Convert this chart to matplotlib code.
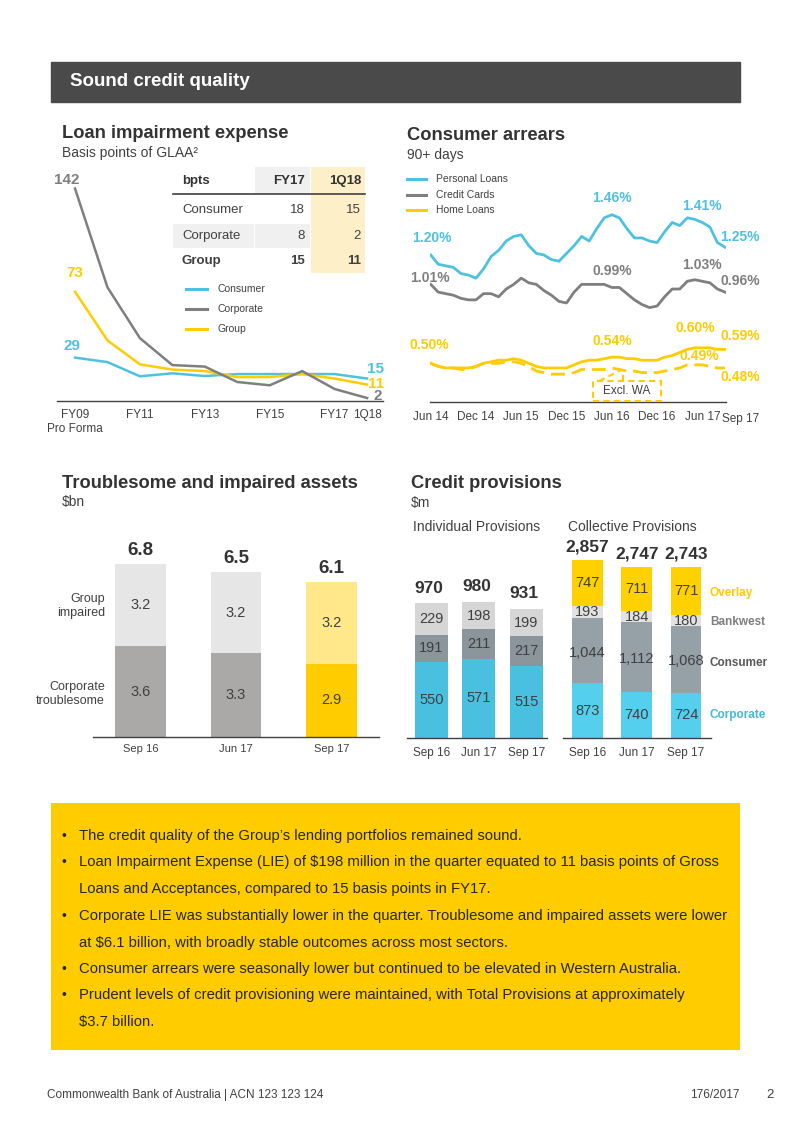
import matplotlib.pyplot as plt
from matplotlib.patches import Rectangle
from matplotlib.lines import Line2D
from matplotlib import font_manager

W, H = 794, 1123
DARK = '#404040'
TITLE = '#333333'
BLUE = '#4FC1E0'
GREY = '#7F7F7F'
YELLOW = '#FFCC00'

plt.rcParams['font.family'] = ['Liberation Sans', 'DejaVu Sans']

# loan impairment expense, bpts of GLAA
lie_years = ['FY09', 'FY10', 'FY11', 'FY12', 'FY13', 'FY14', 'FY15', 'FY16', 'FY17', '1Q18']
lie_tick_labels = ['FY09', '', 'FY11', '', 'FY13', '', 'FY15', '', 'FY17', '1Q18']
lie_consumer = [29, 26, 16.5, 18.5, 16.7, 18, 18, 18, 18, 15]
lie_corporate = [142, 76, 42, 24, 23, 12.7, 10.5, 20, 8, 2]
lie_group = [73, 40.5, 24.5, 21, 20, 16, 16, 18, 15, 11]

tbl_rows = ['Consumer', 'Corporate', 'Group']
tbl_fy17 = [18, 8, 15]
tbl_1q18 = [15, 2, 11]

# consumer arrears 90+ days, monthly Jun 14 - Sep 17 (%)
personal_loans = [1.20, 1.14, 1.13, 1.12, 1.08, 1.07, 1.05, 1.11, 1.19, 1.23,
                  1.29, 1.32, 1.33, 1.26, 1.21, 1.20, 1.17, 1.16, 1.21, 1.26,
                  1.32, 1.29, 1.37, 1.44, 1.46, 1.44, 1.37, 1.31, 1.31, 1.29,
                  1.28, 1.35, 1.41, 1.39, 1.44, 1.43, 1.41, 1.38, 1.28, 1.25]
credit_cards = [1.01, 0.96, 0.95, 0.94, 0.92, 0.91, 0.91, 0.95, 0.95, 0.93,
                0.98, 1.01, 1.05, 1.02, 1.01, 0.97, 0.94, 0.90, 0.89, 0.96,
                1.01, 1.01, 1.01, 1.01, 0.99, 0.99, 0.95, 0.91, 0.88, 0.86,
                0.87, 0.93, 0.98, 0.98, 1.03, 1.04, 1.03, 1.02, 0.98, 0.96]
home_loans = [0.50, 0.48, 0.47, 0.47, 0.47, 0.47, 0.48, 0.50, 0.51, 0.52,
              0.52, 0.53, 0.52, 0.50, 0.48, 0.47, 0.47, 0.47, 0.47, 0.49,
              0.51, 0.52, 0.52, 0.53, 0.54, 0.54, 0.53, 0.53, 0.52, 0.52,
              0.52, 0.54, 0.55, 0.57, 0.59, 0.60, 0.60, 0.60, 0.59, 0.59]
home_loans_ex_wa = [0.50, 0.48, 0.47, 0.47, 0.46, 0.46, 0.48, 0.50, 0.50, 0.50,
                    0.51, 0.51, 0.50, 0.48, 0.45, 0.44, 0.43, 0.43, 0.43, 0.44,
                    0.46, 0.46, 0.46, 0.46, 0.47, 0.46, 0.45, 0.45, 0.44, 0.44,
                    0.44, 0.45, 0.46, 0.47, 0.49, 0.49, 0.49, 0.48, 0.47, 0.47]
arrears_tick_pos = [0, 6, 12, 18, 24, 30, 36]
arrears_tick_labels = ['Jun 14', 'Dec 14', 'Jun 15', 'Dec 15', 'Jun 16', 'Dec 16', 'Jun 17']

# troublesome and impaired assets, $bn
ta_periods = ['Sep 16', 'Jun 17', 'Sep 17']
ta_troublesome = [3.6, 3.3, 2.9]
ta_impaired = [3.2, 3.2, 3.2]
ta_total = [6.8, 6.5, 6.1]

# credit provisions, $m
cp_periods = ['Sep 16', 'Jun 17', 'Sep 17']
ind_corporate = [550, 571, 515]
ind_consumer = [191, 211, 217]
ind_bankwest = [229, 198, 199]
ind_total = [970, 980, 931]
col_corporate = [873, 740, 724]
col_consumer = [1044, 1112, 1068]
col_bankwest = [193, 184, 180]
col_overlay = [747, 711, 771]
col_total = [2857, 2747, 2743]

bullets = [
    (True, 'The credit quality of the Group\u2019s lending portfolios remained sound.'),
    (True, 'Loan Impairment Expense (LIE) of $198 million in the quarter equated to 11 basis points of Gross'),
    (False, 'Loans and Acceptances, compared to 15 basis points in FY17.'),
    (True, 'Corporate LIE was substantially lower in the quarter. Troublesome and impaired assets were lower'),
    (False, 'at $6.1 billion, with broadly stable outcomes across most sectors.'),
    (True, 'Consumer arrears were seasonally lower but continued to be elevated in Western Australia.'),
    (True, 'Prudent levels of credit provisioning were maintained, with Total Provisions at approximately'),
    (False, '$3.7 billion.'),
]

fig = plt.figure(figsize=(W / 100, H / 100), dpi=100)
PT = 0.72  # points per pixel


def txt(x, y, s, **kw):
    kw.setdefault('color', DARK)
    kw.setdefault('va', 'center')
    fig.text(x / W, 1 - y / H, s, **kw)


def rect(l, t, r, b, **kw):
    fig.add_artist(Rectangle((l / W, 1 - b / H), (r - l) / W, (b - t) / H,
                             transform=fig.transFigure, **kw))


def seg(x1, y1, x2, y2, **kw):
    fig.add_artist(Line2D([x1 / W, x2 / W], [1 - y1 / H, 1 - y2 / H],
                          transform=fig.transFigure, **kw))


def axes_px(l, t, r, b):
    ax = fig.add_axes([l / W, 1 - b / H, (r - l) / W, (b - t) / H])
    ax.patch.set_alpha(0)
    for s in ['top', 'right', 'left']:
        ax.spines[s].set_visible(False)
    ax.spines['bottom'].set_color(DARK)
    ax.spines['bottom'].set_linewidth(1.0)
    ax.set_yticks([])
    ax.tick_params(axis='x', length=0, colors=DARK)
    return ax


def lab(ax, s, x, y, dx, dy, color, size=10, weight='bold'):
    ax.annotate(s, (x, y), xytext=(dx * PT, dy * PT), textcoords='offset points',
                ha='center', va='center', color=color, fontsize=size,
                fontweight=weight, annotation_clip=False)


# header
rect(51, 62, 740, 102, color='#4A4A4A')
txt(70, 82, 'Sound credit quality', color='white', fontsize=13.5, fontweight='bold')

# ---------------- loan impairment expense ----------------
txt(62, 134, 'Loan impairment expense', color=TITLE, fontsize=13.2, fontweight='bold')
txt(62, 153, 'Basis points of GLAA\u00b2', fontsize=10)

ax1 = axes_px(57, 170, 383, 401)
xi = list(range(len(lie_years)))
ax1.plot(xi, lie_consumer, color=BLUE, lw=1.8)
ax1.plot(xi, lie_group, color=YELLOW, lw=1.8)
ax1.plot(xi, lie_corporate, color=GREY, lw=1.8)
ax1.set_xlim(-0.555, 9.49)
ax1.set_ylim(0, 154.4)
ax1.set_xticks(xi, lie_tick_labels, fontsize=8.5)
ax1.tick_params(axis='x', pad=5.5)
lab(ax1, 'Pro Forma', 0, 0, 0, -28, DARK, 8.5, 'normal')
lab(ax1, '142', 0, lie_corporate[0], -8, 9, GREY, 11)
lab(ax1, '73', 0, lie_group[0], 0, 19, YELLOW, 11)
lab(ax1, '29', 0, lie_consumer[0], -3, 12, BLUE, 11)
lab(ax1, '15', 9, lie_consumer[-1], 8, 10, BLUE, 11)
lab(ax1, '11', 9, lie_group[-1], 9, 1, YELLOW, 11)
lab(ax1, '2', 9, lie_corporate[-1], 11, 2, GREY, 11)

# table
rect(255, 167, 310, 193, color='#F0F0F0', lw=0)
rect(311, 167, 365, 273, color='#FDEFC8', lw=0)
rect(173, 224, 254, 248, color='#F0F0F0', lw=0)
rect(255, 224, 310, 248, color='#F0F0F0', lw=0)
seg(173, 193.5, 365, 193.5, color=DARK, lw=1.2)
txt(182, 181, 'bpts', fontsize=9.5, fontweight='bold', color=TITLE)
txt(305, 181, 'FY17', fontsize=9.5, fontweight='bold', color=TITLE, ha='right')
txt(361, 181, '1Q18', fontsize=9.5, fontweight='bold', color=TITLE, ha='right')
for k, (name, a, b) in enumerate(zip(tbl_rows, tbl_fy17, tbl_1q18)):
    yy = [210, 236, 261][k]
    w = 'bold' if name == 'Group' else 'normal'
    txt(182, yy, name, fontsize=9.5, fontweight=w)
    txt(305, yy, str(a), fontsize=9.5, fontweight=w, ha='right')
    txt(361, yy, str(b), fontsize=9.5, fontweight=w, ha='right')

for yy, name, c in zip([289, 309, 329], ['Consumer', 'Corporate', 'Group'], [BLUE, GREY, YELLOW]):
    seg(186, yy, 207, yy, color=c, lw=2.2)
    txt(217, yy, name, fontsize=7.5)

# ---------------- consumer arrears ----------------
txt(407, 135, 'Consumer arrears', color=TITLE, fontsize=13.2, fontweight='bold')
txt(407, 155, '90+ days', fontsize=10)

ax2 = axes_px(430, 170, 726, 401.7)
mi = list(range(len(personal_loans)))
ax2.plot(mi, personal_loans, color=BLUE, lw=2.0)
ax2.plot(mi, credit_cards, color=GREY, lw=2.0)
ax2.plot(mi, home_loans_ex_wa, color=YELLOW, lw=2.0, ls=(0, (5, 2.5)))
ax2.plot(mi, home_loans, color=YELLOW, lw=2.0)
ax2.set_xlim(-0.093, 39.13)
ax2.set_ylim(0.252, 1.749)
ax2.set_xticks(arrears_tick_pos, arrears_tick_labels, fontsize=8.5)
ax2.tick_params(axis='x', pad=6.5)
lab(ax2, 'Sep 17', 39, 0.252, 16, -17, DARK, 8.5, 'normal')

lab(ax2, '1.20%', 0, personal_loans[0], 1, 17, BLUE)
lab(ax2, '1.01%', 0, credit_cards[0], -1, 6, GREY)
lab(ax2, '0.50%', 0, home_loans[0], -1, 18, YELLOW)
lab(ax2, '1.46%', 24, personal_loans[24], 0, 17, BLUE)
lab(ax2, '0.99%', 24, credit_cards[24], 0, 16, GREY)
lab(ax2, '0.54%', 24, home_loans[24], 0, 16, YELLOW)
lab(ax2, '1.41%', 36, personal_loans[36], 0, 16, BLUE)
lab(ax2, '1.03%', 36, credit_cards[36], 0, 16, GREY)
lab(ax2, '0.60%', 35, home_loans[35], 0, 20, YELLOW)
lab(ax2, '0.49%', 35, home_loans_ex_wa[35], 4, 9, YELLOW)
lab(ax2, '1.25%', 39, personal_loans[39], 15, 10, BLUE)
lab(ax2, '0.96%', 39, credit_cards[39], 15, 11, GREY)
lab(ax2, '0.59%', 39, home_loans[39], 15, 13, YELLOW)
lab(ax2, '0.48%', 39, home_loans_ex_wa[39], 15, -9, YELLOW)

for yy, name, c in zip([179, 195, 210], ['Personal Loans', 'Credit Cards', 'Home Loans'], [BLUE, GREY, YELLOW]):
    seg(407, yy, 426, yy, color=c, lw=2.2)
    txt(436, yy, name, fontsize=7.5)

# Excl. WA callout
rect(593, 381, 661, 401, fill=False, ec=YELLOW, lw=1.5, ls=(0, (3, 2)))
seg(599, 381, 621, 370, color=YELLOW, lw=1.5, ls=(0, (3, 2)))
seg(623, 381, 623, 369, color=YELLOW, lw=1.5, ls=(0, (3, 2)))
txt(627, 391, 'Excl. WA', fontsize=8.5, ha='center')

# ---------------- troublesome and impaired assets ----------------
txt(62, 483, 'Troublesome and impaired assets', color=TITLE, fontsize=13.2, fontweight='bold')
txt(62, 502, '$bn', fontsize=10)

ax3 = axes_px(92.7, 520, 379.3, 737.3)
bi = list(range(len(ta_periods)))
c_low = ['#ABA9A7', '#ABA9A7', '#FFCC00']
c_high = ['#E7E6E6', '#E7E6E6', '#FFE88A']
ax3.bar(bi, ta_troublesome, width=0.53, color=c_low)
ax3.bar(bi, ta_impaired, width=0.53, bottom=ta_troublesome, color=c_high)
ax3.set_xlim(-0.5, 2.5)
ax3.set_ylim(0, 8.55)
ax3.set_xticks(bi, ta_periods, fontsize=8)
ax3.tick_params(axis='x', pad=4.5)
for i in bi:
    lab(ax3, f'{ta_troublesome[i]:.1f}', i, ta_troublesome[i] / 2, 0, 0, DARK, 10.5, 'normal')
    lab(ax3, f'{ta_impaired[i]:.1f}', i, ta_troublesome[i] + ta_impaired[i] / 2, 0, 0, DARK, 10.5, 'normal')
    lab(ax3, f'{ta_total[i]:.1f}', i, ta_total[i], 0, 14, TITLE, 13.5)
txt(105, 606, 'Group\nimpaired', fontsize=9, ha='right', linespacing=1.3)
txt(105, 694, 'Corporate\ntroublesome', fontsize=9, ha='right', linespacing=1.3)

# ---------------- credit provisions ----------------
txt(411, 484, 'Credit provisions', color=TITLE, fontsize=13.2, fontweight='bold')
txt(411, 503, '$m', fontsize=10)
txt(477, 527, 'Individual Provisions', fontsize=10, ha='center')
txt(632, 527, 'Collective Provisions', fontsize=10, ha='center')

ax4 = axes_px(407.3, 560, 546.7, 737.7)
b1 = list(ind_corporate)
b2 = [a + b for a, b in zip(ind_corporate, ind_consumer)]
ax4.bar(bi, ind_corporate, width=0.69, color='#4AC0E0')
ax4.bar(bi, ind_consumer, width=0.69, bottom=b1, color='#8A959C')
ax4.bar(bi, ind_bankwest, width=0.69, bottom=b2, color='#D6D6D6')
ax4.set_xlim(-0.505, 2.43)
ax4.set_ylim(0, 1283)
ax4.set_xticks(bi, cp_periods, fontsize=8.5)
ax4.tick_params(axis='x', pad=6.5)
for i in bi:
    lab(ax4, str(ind_corporate[i]), i, ind_corporate[i] / 2, 0, 0, DARK, 10.5, 'normal')
    lab(ax4, str(ind_consumer[i]), i, b1[i] + ind_consumer[i] / 2, 0, 0, DARK, 10.5, 'normal')
    lab(ax4, str(ind_bankwest[i]), i, b2[i] + ind_bankwest[i] / 2, 0, 0, DARK, 10.5, 'normal')
    lab(ax4, str(ind_total[i]), i, ind_total[i], -2, 15, TITLE, 12.5)

ax5 = axes_px(563.3, 530, 710.7, 737.7)
c1 = list(col_corporate)
c2 = [a + b for a, b in zip(c1, col_consumer)]
c3 = [a + b for a, b in zip(c2, col_bankwest)]
ax5.bar(bi, col_corporate, width=0.62, color='#55CFEE')
ax5.bar(bi, col_consumer, width=0.62, bottom=c1, color='#96A0A7')
ax5.bar(bi, col_bankwest, width=0.62, bottom=c2, color='#E2E2E2')
ax5.bar(bi, col_overlay, width=0.62, bottom=c3, color='#FFD100')
ax5.set_xlim(-0.49, 2.5)
ax5.set_ylim(0, 3339)
ax5.set_xticks(bi, cp_periods, fontsize=8.5)
ax5.tick_params(axis='x', pad=6.5)
for i in bi:
    lab(ax5, str(col_corporate[i]), i, col_corporate[i] / 2, 0, 0, DARK, 10.5, 'normal')
    lab(ax5, f'{col_consumer[i]:,}', i, c1[i] + col_consumer[i] / 2, 0, -2, DARK, 10.5, 'normal')
    lab(ax5, str(col_bankwest[i]), i, c2[i] + col_bankwest[i] / 2, 0, 0, DARK, 10.5, 'normal')
    lab(ax5, str(col_overlay[i]), i, c3[i] + col_overlay[i] / 2, 0, 0, DARK, 10.5, 'normal')
    lab(ax5, f'{col_total[i]:,}', i, col_total[i], 0, 13, TITLE, 12.5)

txt(710, 593, 'Overlay', fontsize=8.5, fontweight='bold', color=YELLOW)
txt(710, 622, 'Bankwest', fontsize=8.5, fontweight='bold', color='#7F7F7F')
txt(710, 663, 'Consumer', fontsize=8.5, fontweight='bold', color='#595959')
txt(710, 715, 'Corporate', fontsize=8.5, fontweight='bold', color='#45B8D8')

# ---------------- commentary box ----------------
rect(51, 803, 740, 1050, color='#FFCC00', lw=0)
names = {f.name for f in font_manager.fontManager.ttflist}
if 'Liberation Sans Narrow' in names:
    body_font, body_size = 'Liberation Sans Narrow', 12
else:
    body_font, body_size = 'Liberation Sans', 10.7
line_y = [836, 862, 889, 916, 943, 969, 995, 1022]
for yy, (has_bullet, s) in zip(line_y, bullets):
    if has_bullet:
        txt(64, yy, '\u2022', fontsize=10, color='#262626', ha='center')
    txt(79, yy, s, fontsize=body_size, family=[body_font, 'DejaVu Sans'], color='#262626')

# footer
txt(47, 1095, 'Commonwealth Bank of Australia | ACN 123 123 124', fontsize=8.5)
txt(740, 1095, '176/2017', fontsize=8.5, ha='right')
txt(770, 1095, '2', fontsize=9.5, ha='center')

fig.savefig('out.png', dpi=100)
